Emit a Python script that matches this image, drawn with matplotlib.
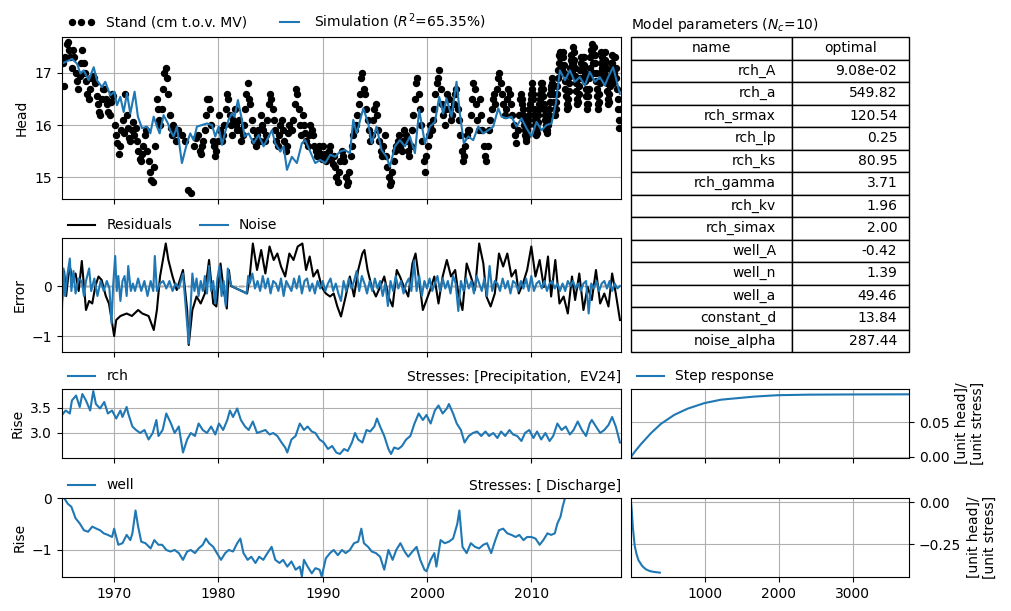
import numpy as np
import matplotlib
matplotlib.use("Agg")
import matplotlib.pyplot as plt

obs_first_year = 1965
obs_last_span = 0.6  # the last row only covers part of 2018
obs_by_year = [
    [17.2, 16.75, 17.3, 17.55, 17.6, 17.45, 17.3, 17.1],
    [17.45, 17.3, 17.0, 16.85, 16.7, 16.95, 17.2, 17.45],
    [17.2, 17.0, 16.85, 16.6, 16.5, 16.7, 16.9, 16.95],
    [16.9, 16.8, 16.55, 16.4, 16.25, 16.2, 16.5, 16.7],
    [16.7, 16.5, 16.4, 16.25, 16.2, 16.45, 16.6, 16.55],
    [16.0, 15.8, 15.65, 15.45, 15.6, 15.9, 16.1, 15.85],
    [16.6, 16.2, 15.95, 15.75, 15.7, 15.9, 16.05, 15.8],
    [15.95, 15.7, 15.5, 15.35, 15.3, 15.45, 15.6, 15.8],
    [15.9, 15.5, 15.3, 15.1, 14.95, 14.9, 15.2, 15.6],
    [16.5, 16.3, 16.1, 16.0, 16.3, 16.7, 17.0, 17.1],
    [16.9, 16.6, 16.2, 15.95, 15.8, 16.0, 15.85, 15.7],
    [15.9, 15.8, 15.7],
    [14.75, 14.7, 15.6, 15.75],
    [15.8, 15.5, 15.45, 15.6, 15.7, 15.9, 16.2, 16.5],
    [16.5, 16.3, 16.0, 15.7, 15.6, 15.4, 15.5, 15.7],
    [16.2, 15.9, 15.7, 15.8, 16.0, 16.3, 16.6, 16.5],
    [16.2, 16.0, 15.8, 16.1, 16.3, 16.0, 15.9, 16.1],
    [15.9, 15.7, 15.8, 16.0, 16.3, 16.6, 16.8, 16.5],
    [16.4, 16.1, 15.9, 15.7, 15.6, 15.8, 15.9, 15.7],
    [16.2, 16.0, 15.9, 15.7, 15.8, 16.1, 16.4, 16.6],
    [16.5, 16.3, 16.1, 15.9, 15.7, 15.6, 15.8, 16.0],
    [16.1, 15.9, 15.7, 15.5, 15.6, 15.85, 16.0, 15.9],
    [15.9, 16.1, 16.4, 16.7, 16.6, 16.3, 16.0, 15.8],
    [16.2, 16.0, 15.85, 15.7, 15.6, 15.8, 16.0, 15.9],
    [15.8, 15.6, 15.5, 15.4, 15.5, 15.6, 15.45, 15.35],
    [15.6, 15.45, 15.3, 15.4, 15.5, 15.6, 15.35, 15.25],
    [15.4, 15.2, 15.0, 14.9, 15.1, 15.3, 15.5, 15.4],
    [15.3, 15.0, 14.85, 14.9, 15.1, 15.4, 15.6, 15.8],
    [15.9, 16.0, 16.2, 16.4, 16.6, 16.9, 17.0, 16.7],
    [16.6, 16.3, 16.1, 15.9, 15.7, 15.8, 16.1, 16.3],
    [16.4, 16.2, 15.9, 15.7, 15.5, 15.4, 15.6, 15.8],
    [15.4, 15.2, 15.0, 14.85, 14.9, 15.1, 15.3, 15.5],
    [15.6, 15.7, 15.8, 15.6, 15.5, 15.7, 15.9, 15.8],
    [15.7, 15.5, 15.4, 15.6, 15.9, 16.2, 16.5, 16.8],
    [16.9, 16.6, 16.3, 16.0, 15.7, 15.3, 15.1, 15.4],
    [15.6, 15.8, 16.0, 15.9, 16.1, 16.3, 16.6, 16.8],
    [16.9, 17.05, 16.7, 16.4, 16.2, 16.0, 16.3, 16.6],
    [16.5, 16.3, 16.1, 16.2, 16.4, 16.6, 16.7, 16.3],
    [16.1, 15.8, 15.5, 15.3, 15.4, 15.6, 15.8, 15.9],
    [15.9, 16.2, 16.5, 16.8, 16.7, 16.4, 16.1, 15.9],
    [16.5, 16.2, 15.9, 15.6, 15.4, 15.3, 15.6, 15.9],
    [16.1, 16.3, 16.5, 16.6, 16.4, 16.7, 16.9, 17.0],
    [16.8, 16.6, 16.4, 16.2, 16.3, 16.5, 16.7, 16.6],
    [16.4, 16.2, 16.0, 15.8, 15.65, 15.9, 16.2, 16.5],
    [16.6, 16.5, 16.4, 16.3, 16.2, 16.1, 16.0, 15.9, 15.8, 15.75,
     15.7, 15.8, 15.9, 16.0, 16.1, 16.2, 16.3, 16.4, 16.5, 16.6],
    [16.8, 16.7, 16.6, 16.5, 16.3, 16.2, 16.1, 16.0, 15.9, 15.8,
     15.85, 15.95, 16.05, 16.2, 16.3, 16.4, 16.5, 16.6, 16.7, 16.8],
    [16.8, 16.7, 16.55, 16.4, 16.3, 16.2, 16.1, 16.0, 15.9, 15.85,
     15.9, 16.0, 16.1, 16.2, 16.3, 16.45, 16.6, 16.7, 16.75, 16.8],
    [16.9, 16.75, 16.6, 16.45, 16.3, 16.2, 16.3, 16.45, 16.6, 16.75,
     16.9, 17.05, 17.2, 17.35, 17.4, 17.3, 17.15, 17.0, 17.1, 17.3],
    [17.4, 17.3, 17.15, 17.0, 16.85, 16.7, 16.55, 16.4, 16.3, 16.35,
     16.5, 16.65, 16.8, 16.95, 17.1, 17.25, 17.35, 17.2, 17.0, 17.2],
    [17.5, 17.4, 17.25, 17.1, 16.95, 16.8, 16.65, 16.5, 16.4, 16.45,
     16.6, 16.75, 16.9, 17.05, 17.2, 17.3, 17.1, 16.9, 17.1, 17.3],
    [17.3, 17.15, 17.0, 16.85, 16.7, 16.55, 16.4, 16.3, 16.4, 16.55,
     16.7, 16.9, 17.1, 17.3, 17.45, 17.55, 17.4, 17.2, 17.0, 17.2],
    [17.5, 17.35, 17.2, 17.0, 16.85, 16.7, 16.55, 16.4, 16.3, 16.45,
     16.6, 16.8, 17.0, 17.2, 17.4, 17.3, 17.1, 16.9, 17.0, 17.2],
    [17.4, 17.25, 17.1, 16.95, 16.8, 16.65, 16.5, 16.4, 16.45, 16.6,
     16.75, 16.9, 17.05, 17.2, 17.35, 17.2, 17.0, 16.8, 17.0, 17.3],
    [17.3, 17.1, 16.9, 16.7, 16.5, 16.3, 16.1, 15.95, 16.1, 16.3],
]

sim_t = [1965.0, 1965.96, 1966.44, 1966.76, 1967.08, 1967.56, 1968.04, 1968.35, 1968.83,
         1969.15, 1969.63, 1970.02, 1970.27, 1970.59, 1970.91, 1971.23, 1971.55, 1971.96,
         1972.28, 1972.67, 1973.15, 1973.47, 1973.79, 1974.11, 1974.36, 1974.74, 1975.16,
         1975.38, 1975.7, 1976.02, 1976.5, 1976.98, 1977.3, 1977.62, 1977.94, 1978.42,
         1978.9, 1979.38, 1979.7, 1980.02, 1980.34, 1980.65, 1980.97, 1981.29, 1981.55,
         1981.87, 1982.19, 1982.51, 1982.89, 1983.37, 1983.85, 1984.33, 1984.81, 1985.13,
         1985.45, 1985.93, 1986.25, 1986.57, 1987.04, 1987.52, 1988.0, 1988.32, 1988.8,
         1989.28, 1989.76, 1990.24, 1990.72, 1991.2, 1991.65, 1992.13, 1992.61, 1992.93,
         1993.25, 1993.89, 1994.37, 1994.69, 1995.16, 1995.64, 1996.12, 1996.44, 1996.92,
         1997.4, 1997.88, 1998.36, 1998.84, 1999.25, 1999.8, 2000.28, 2000.76, 2001.17,
         2001.55, 2001.87, 2002.35, 2002.83, 2003.15, 2003.53, 2003.95, 2004.43, 2004.91,
         2005.39, 2005.87, 2006.35, 2006.83, 2007.15, 2007.62, 2008.1, 2008.58, 2009.06,
         2009.54, 2010.02, 2010.5, 2010.98, 2011.46, 2011.94, 2012.35, 2012.74, 2013.22,
         2013.7, 2014.17, 2014.65, 2015.13, 2015.61, 2016.09, 2016.57, 2017.05, 2017.37,
         2017.85, 2018.49]
sim_v = [17.18, 17.27, 17.18, 16.99, 17.05, 16.86, 17.11, 16.86, 16.73,
         16.83, 16.57, 16.64, 16.38, 16.54, 16.25, 16.61, 16.22, 16.64,
         16.16, 15.94, 15.97, 15.84, 16.16, 15.97, 15.84, 16.19, 16.03,
         15.90, 15.78, 15.97, 15.27, 15.65, 15.84, 15.71, 15.97, 16.0,
         16.03, 16.0, 15.78, 15.97, 15.62, 15.87, 16.1, 16.22, 16.16,
         16.48, 16.16, 15.78, 15.84, 15.65, 15.81, 15.59, 15.78, 15.90,
         15.65, 15.49, 15.59, 15.14, 15.39, 15.27, 15.65, 15.71, 15.49,
         15.27, 15.33, 15.27, 15.43, 15.39, 15.49, 15.52, 15.46, 16.1,
         15.84, 16.32, 16.03, 15.65, 15.97, 15.52, 15.39, 15.2, 15.59,
         15.71, 15.59, 15.78, 15.46, 16.29, 15.65, 15.97, 16.06, 16.54,
         16.22, 16.51, 16.16, 16.83, 16.22, 15.65, 15.78, 15.71, 15.97,
         15.84, 15.90, 15.97, 16.32, 16.16, 16.13, 16.16, 15.97, 16.13,
         15.94, 15.78, 16.06, 15.90, 16.0, 16.03, 16.41, 17.05, 16.86,
         17.05, 16.83, 16.92, 16.76, 17.02, 16.83, 16.92, 16.76, 16.92,
         17.11, 16.6]

res_t = [1965.0, 1965.2, 1965.4, 1965.6, 1965.8, 1966.0, 1966.3, 1966.6, 1966.9, 1967.1,
         1967.3, 1967.6, 1967.9, 1968.2, 1968.5, 1968.8, 1969.2, 1969.5, 1969.7, 1970.0,
         1970.2, 1970.6, 1971.2, 1971.7, 1972.3, 1972.7, 1973.3, 1973.8, 1974.1, 1974.4,
         1974.95, 1975.2, 1975.6, 1976.0, 1976.6, 1977.0, 1977.15, 1977.5, 1977.9, 1978.3,
         1978.7, 1979.1, 1979.5, 1979.8, 1980.2, 1980.5, 1980.8, 1981.0, 1981.2, 1982.75,
         1983.0, 1983.3, 1983.7, 1984.1, 1984.5, 1984.9, 1985.3, 1985.65, 1986.0, 1986.4,
         1986.8, 1987.2, 1987.6, 1988.05, 1988.4, 1988.75, 1989.1, 1989.5, 1989.9, 1990.3,
         1990.7, 1991.05, 1991.4, 1991.75, 1992.2, 1992.6, 1993.0, 1993.4, 1993.8, 1994.0,
         1994.3, 1994.7, 1995.1, 1995.5, 1995.9, 1996.3, 1996.7, 1997.1, 1997.4, 1997.8,
         1998.2, 1998.6, 1998.9, 1999.2, 1999.6, 1999.95, 2000.3, 2000.7, 2001.1, 2001.5,
         2001.9, 2002.3, 2002.7, 2003.0, 2003.4, 2003.8, 2004.2, 2004.6, 2005.0, 2005.4,
         2005.7, 2006.1, 2006.5, 2006.9, 2007.3, 2007.7, 2008.1, 2008.5, 2008.8, 2009.2,
         2009.6, 2010.0, 2010.4, 2010.8, 2011.2, 2011.6, 2011.9, 2012.3, 2012.7, 2013.1,
         2013.5, 2013.9, 2014.2, 2014.6, 2015.0, 2015.4, 2015.8, 2016.2, 2016.6, 2017.0,
         2017.4, 2017.75, 2018.1, 2018.5]
res_v = [-0.3, 0.3, -0.2, 0.2, 0.35, 0.1, 0.25, -0.1, 0.5, 0.0,
         -0.48, -0.3, -0.35, 0.0, 0.19, 0.12, -0.2, -0.35, -0.6, -1.0,
         -0.68, -0.6, -0.55, -0.6, -0.48, -0.55, -0.6, -0.88, -0.48, 0.19,
         0.85, 0.52, 0.19, -0.08, 0.32, -0.48, -1.18, -0.48, -0.21, -0.35,
         -0.15, 0.52, -0.35, -0.41, 0.45, -0.08, -0.45, 0.32, 0.0, -0.15,
         0.19, 0.85, 0.32, 0.72, 0.25, 0.79, 0.52, 0.65, 0.39, 0.19,
         0.65, 0.52, 0.79, 0.85, 0.32, 0.59, 0.19, 0.32, -0.02, -0.15,
         -0.21, -0.15, -0.41, -0.61, -0.21, 0.19, -0.21, 0.32, 0.65, 0.72,
         0.32, -0.02, -0.21, -0.02, 0.19, -0.21, -0.41, 0.32, 0.19, -0.02,
         -0.21, 0.45, 0.65, 0.19, -0.48, -0.28, -0.08, 0.19, -0.35, 0.19,
         0.52, 0.19, 0.32, -0.15, -0.48, 0.45, 0.19, -0.08, 0.85, 0.45,
         -0.21, -0.41, -0.15, 0.65, 0.39, 0.65, 0.19, 0.32, -0.15, 0.05,
         0.32, 0.79, 0.19, 0.52, -0.02, 0.59, -0.21, 0.52, -0.35, -0.21,
         -0.55, 0.19, -0.28, 0.25, -0.48, -0.02, -0.28, 0.32, -0.35, -0.15,
         -0.41, 0.25, -0.15, -0.68]

# noise, first part at irregular dates
noise_t1 = [1965.0, 1965.15, 1965.3, 1965.5, 1965.75, 1965.9, 1966.1, 1966.3, 1966.6, 1966.9,
            1967.1, 1967.3, 1967.6, 1967.8, 1968.1, 1968.4, 1968.7, 1969.0, 1969.3, 1969.55,
            1969.75, 1969.9, 1970.1, 1970.25, 1970.4, 1970.6, 1970.8, 1971.0, 1971.2, 1971.35,
            1971.6, 1971.8, 1972.0, 1972.3, 1972.6, 1972.9, 1973.2, 1973.5, 1973.75, 1973.9,
            1974.1, 1974.4, 1974.7, 1975.0, 1975.3, 1975.6, 1975.9, 1976.2, 1976.6, 1977.15,
            1977.5, 1977.7, 1977.9, 1978.1, 1978.3, 1978.5, 1978.7, 1978.9, 1979.1, 1979.3,
            1979.5, 1979.7, 1979.9, 1980.1, 1980.3, 1980.5, 1980.7, 1980.9, 1981.1, 1981.25,
            1982.7, 1982.85, 1983.0]
noise_v1 = [-0.45, 0.35, -0.2, 0.2, 0.55, -0.1, 0.3, -0.15, 0.15, 0.1,
            -0.2, 0.1, 0.35, -0.1, 0.15, -0.2, 0.1, -0.1, 0.1, -0.05,
            -0.75, 0.0, 0.6, -0.1, 0.2, -0.3, 0.1, 0.2, -0.2, 0.4,
            -0.1, 0.05, -0.1, 0.15, -0.1, 0.1, -0.2, 0.1, -0.1, 0.6,
            -0.1, 0.05, 0.1, -0.05, 0.1, -0.1, 0.05, -0.05, 0.25, -1.15,
            0.25, -0.1, 0.15, -0.2, 0.1, -0.1, 0.2, -0.15, 0.4, -0.1,
            0.1, -0.35, 0.15, 0.4, -0.2, 0.1, -0.4, 0.35, 0.1, 0.0,
            -0.15, 0.2, 0.05]
# noise, quarterly from 1983.25
noise_start2 = 1983.25
noise_v2 = [0.25, -0.05, 0.1,
            -0.1, 0.2, -0.05, 0.15, -0.15, 0.1, 0.05, -0.1, 0.15, -0.2, 0.1, 0.0,
            -0.1, 0.15, -0.05, 0.2, -0.15, 0.1, 0.15, -0.1, 0.05, -0.15, 0.1, -0.05,
            0.1, -0.1, 0.05, 0.15, -0.1, 0.05, -0.15, -0.3, 0.1, -0.1, 0.15, -0.05,
            0.1, 0.3, -0.1, 0.2, 0.05, -0.15, 0.1, -0.1, 0.15, -0.05, 0.1, -0.2,
            0.05, -0.4, 0.1, -0.1, 0.2, -0.05, 0.1, -0.15, 0.05, 0.15, -0.1, 0.5,
            -0.1, 0.2, -0.2, 0.1, -0.05, 0.15, -0.1, 0.05, 0.2, -0.1, 0.15, -0.05,
            0.1, -0.15, 0.2, 0.05, -0.5, 0.1, -0.1, 0.15, -0.05, 0.1, -0.15, 0.2,
            0.05, -0.1, 0.15, -0.2, 0.4, -0.1, 0.1, 0.05, -0.1, 0.15, -0.05, 0.1,
            -0.15, 0.1, 0.05, -0.1, 0.1, -0.05, 0.15, -0.1, 0.2, -0.1, 0.05, 0.1,
            -0.05, 0.1, -0.1, 0.05, 0.1, -0.05, 0.05, -0.1, 0.05, -0.1, 0.1, 0.0,
            0.1, -0.05, 0.05, -0.1, 0.05, 0.1, -0.55, 0.05, -0.05, 0.1, -0.1, 0.05,
            0.1, -0.05, 0.1, -0.1,
            0.05, -0.05, 0.0]

rch_t = [1965.0, 1965.35, 1965.75, 1965.95, 1966.35, 1966.7, 1966.95, 1967.3, 1967.7, 1968.0,
         1968.25, 1968.65, 1969.05, 1969.4, 1969.8, 1970.2, 1970.6, 1970.8, 1971.2, 1971.35,
         1971.75, 1972.1, 1972.5, 1972.9, 1973.3, 1973.7, 1974.05, 1974.25, 1974.65, 1975.0,
         1975.45, 1975.8, 1976.2, 1976.6, 1977.0, 1977.35, 1977.75, 1978.1, 1978.5, 1978.9,
         1979.3, 1979.7, 1980.05, 1980.45, 1980.85, 1981.1, 1981.4, 1981.8, 1982.15, 1982.55,
         1982.9, 1983.3, 1983.7, 1984.1, 1984.5, 1984.9, 1985.25, 1985.65, 1986.05, 1986.4,
         1986.6, 1987.0, 1987.4, 1987.8, 1988.2, 1988.55, 1988.95, 1989.3, 1989.7, 1990.1,
         1990.5, 1990.9, 1991.3, 1991.65, 1992.05, 1992.4, 1992.8, 1993.1, 1993.4, 1993.8,
         1994.2, 1994.55, 1994.95, 1995.2, 1995.5, 1995.9, 1996.3, 1996.55, 1996.85, 1997.25,
         1997.6, 1998.0, 1998.4, 1998.8, 1999.2, 1999.6, 1999.95, 2000.35, 2000.75, 2001.1,
         2001.5, 2001.9, 2002.1, 2002.5, 2002.85, 2003.25, 2003.6, 2004.0, 2004.4, 2004.8,
         2005.2, 2005.6, 2005.95, 2006.35, 2006.75, 2007.1, 2007.5, 2007.9, 2008.25, 2008.65,
         2009.05, 2009.4, 2009.8, 2010.2, 2010.55, 2010.95, 2011.35, 2011.75, 2012.1, 2012.5,
         2012.9, 2013.3, 2013.7, 2014.05, 2014.45, 2014.85, 2015.25, 2015.6, 2015.8, 2016.2,
         2016.6, 2017.0, 2017.4, 2017.75, 2018.1, 2018.5]
rch_v = [3.36, 3.45, 3.39, 3.65, 3.75, 3.52, 3.78, 3.65, 3.45, 3.84,
         3.58, 3.49, 3.62, 3.39, 3.45, 3.29, 3.45, 3.32, 3.52, 3.39,
         3.13, 3.06, 3.0, 3.06, 2.87, 3.0, 3.26, 2.94, 3.06, 3.39,
         3.19, 3.0, 3.13, 2.61, 2.87, 3.0, 2.94, 3.19, 3.06, 3.0,
         3.13, 2.97, 3.19, 3.06, 3.26, 3.45, 3.32, 3.49, 3.26, 3.13,
         3.06, 3.23, 3.0, 3.03, 3.06, 2.97, 3.0, 2.94, 2.81, 2.71,
         2.61, 2.87, 2.94, 3.19, 3.06, 3.13, 3.03, 3.0, 2.87, 2.81,
         2.68, 2.74, 2.61, 2.58, 2.68, 2.64, 2.81, 3.0, 2.87, 2.81,
         3.06, 3.03, 3.13, 3.29, 3.13, 2.94, 2.68, 2.58, 2.71, 2.68,
         2.74, 2.87, 2.94, 3.19, 3.39, 3.26, 3.36, 3.19, 3.45, 3.55,
         3.39, 3.49, 3.58, 3.39, 3.19, 3.06, 2.81, 2.94, 3.0, 3.03,
         2.94, 3.03, 2.94, 3.0, 2.9, 3.03, 2.94, 3.06, 2.97, 2.94,
         2.84, 3.0, 3.06, 2.9, 3.03, 2.87, 3.0, 2.84, 2.94, 3.19,
         3.06, 3.13, 2.97, 3.06, 3.23, 3.06, 2.94, 3.19, 3.26, 3.13,
         3.0, 3.06, 3.16, 3.32, 3.13, 2.81]

well_t = [1965.2, 1965.55, 1965.9, 1966.3, 1966.7, 1967.1, 1967.5, 1967.9, 1968.3, 1968.65,
          1969.0, 1969.4, 1969.8, 1970.0, 1970.4, 1970.8, 1971.2, 1971.55, 1971.75, 1972.05,
          1972.3, 1972.6, 1973.0, 1973.5, 1973.85, 1974.25, 1974.6, 1975.0, 1975.4, 1975.8,
          1976.2, 1976.6, 1977.0, 1977.35, 1977.75, 1978.1, 1978.5, 1978.8, 1979.1, 1979.5,
          1979.85, 1980.25, 1980.65, 1981.0, 1981.4, 1981.8, 1982.1, 1982.4, 1982.8, 1983.15,
          1983.55, 1983.9, 1984.3, 1984.7, 1985.1, 1985.45, 1985.85, 1986.2, 1986.6, 1987.0,
          1987.4, 1987.8, 1988.0, 1988.2, 1988.55, 1988.95, 1989.3, 1989.7, 1989.9, 1990.3,
          1990.7, 1991.05, 1991.45, 1991.85, 1992.2, 1992.6, 1993.0, 1993.4, 1993.7, 1993.95,
          1994.35, 1994.7, 1995.1, 1995.5, 1995.9, 1996.3, 1996.7, 1997.05, 1997.45, 1997.85,
          1998.2, 1998.6, 1999.0, 1999.35, 1999.75, 1999.95, 2000.35, 2000.7, 2000.9, 2001.3,
          2001.7, 2002.1, 2002.5, 2002.9, 2003.1, 2003.4, 2003.8, 2004.2, 2004.6, 2005.0,
          2005.4, 2005.75, 2006.15, 2006.55, 2006.9, 2007.3, 2007.7, 2008.1, 2008.5, 2008.85,
          2009.25, 2009.6, 2010.0, 2010.4, 2010.8, 2011.15, 2011.55, 2011.9, 2012.25, 2012.5,
          2012.8, 2013.0, 2013.3]
well_v = [0.0, -0.11, -0.17, -0.39, -0.49, -0.62, -0.65, -0.55, -0.59, -0.62,
          -0.68, -0.71, -0.75, -0.59, -0.9, -0.87, -0.71, -0.81, -0.68, -0.24,
          -0.55, -0.84, -0.87, -0.97, -0.81, -0.9, -0.9, -1.0, -1.03, -1.0,
          -1.06, -1.19, -1.03, -1.0, -1.06, -0.97, -0.9, -0.78, -0.87, -0.94,
          -1.06, -1.19, -1.06, -1.0, -1.03, -0.87, -0.78, -1.06, -1.19, -1.13,
          -1.25, -1.13, -1.19, -1.06, -0.94, -1.19, -1.25, -1.19, -1.32, -1.22,
          -1.38, -1.32, -1.51, -1.19, -1.32, -1.45, -1.35, -1.38, -1.51, -1.16,
          -1.06, -1.0, -1.1, -1.0, -1.06, -1.0, -0.87, -0.84, -0.59, -0.87,
          -0.94, -1.03, -1.06, -1.13, -1.38, -1.0, -1.19, -1.0, -0.87, -1.03,
          -1.13, -1.03, -0.94, -1.19, -1.38, -1.41, -1.19, -1.06, -1.32, -0.81,
          -0.87, -0.84, -0.78, -0.5, -0.24, -0.94, -1.06, -0.87, -0.94, -0.97,
          -0.9, -0.87, -1.06, -0.81, -0.62, -0.59, -0.68, -0.71, -0.75, -0.71,
          -0.81, -0.75, -0.75, -0.78, -0.9, -0.81, -0.68, -0.71, -0.68, -0.49,
          -0.36, -0.17, 0.05]

step_rch_t = [0, 50, 135, 270, 405, 585, 766, 991, 1216, 1667, 1982, 2400, 3000, 3780]
step_rch_v = [0.0, 0.0075, 0.0186, 0.0345, 0.048, 0.061, 0.070, 0.078, 0.083, 0.0875,
              0.0895, 0.0903, 0.0906, 0.0908]
step_well_t = [0, 10, 25, 50, 75, 100, 150, 200, 250, 300, 390]
step_well_v = [0.0, -0.05, -0.15, -0.26, -0.31, -0.345, -0.38, -0.4, -0.41, -0.415, -0.42]

param_names = ["rch_A", "rch_a", "rch_srmax", "rch_lp", "rch_ks", "rch_gamma", "rch_kv",
               "rch_simax", "well_A", "well_n", "well_a", "constant_d", "noise_alpha"]
param_optimal = ["9.08e-02", "549.82", "120.54", "0.25", "80.95", "3.71", "1.96",
                 "2.00", "-0.42", "1.39", "49.46", "13.84", "287.44"]

obs_t = []
obs_h = []
for i, row in enumerate(obs_by_year):
    n = len(row)
    span = obs_last_span if i == len(obs_by_year) - 1 else 1.0
    for j, v in enumerate(row):
        obs_t.append(obs_first_year + i + span * (j + 0.5) / n)
        obs_h.append(v)
noise_t = noise_t1 + [noise_start2 + 0.25 * i for i in range(len(noise_v2))]
noise_v = noise_v1 + noise_v2

W, H = 1011, 611
fig = plt.figure(figsize=(W / 100, H / 100), dpi=100)


def box(x0, y0, x1, y1):
    return [x0 / W, 1 - y1 / H, (x1 - x0) / W, (y1 - y0) / H]


ax1 = fig.add_axes(box(62, 37, 621, 199))
ax2 = fig.add_axes(box(62, 238, 621, 352), sharex=ax1)
ax3 = fig.add_axes(box(62, 389, 621, 458), sharex=ax1)
ax4 = fig.add_axes(box(62, 498, 621, 577), sharex=ax1)
axt = fig.add_axes(box(631, 37, 909, 352))
ax5 = fig.add_axes(box(631, 389, 909, 458))
ax6 = fig.add_axes(box(631, 498, 909, 577), sharex=ax5)

blue = "C0"
leg_kw = dict(loc="lower left", bbox_to_anchor=(0, 1), frameon=False, borderaxespad=0.0)

# head
ax1.plot(obs_t, obs_h, ls="none", marker="o", ms=4.3, color="k", label="Stand (cm t.o.v. MV)")
ax1.plot(sim_t, sim_v, color=blue, lw=1.5, label="Simulation ($R^2$=65.35%)")
ax1.set_ylim(14.58, 17.69)
ax1.set_yticks([15, 16, 17])
ax1.set_ylabel("Head")
ax1.legend(ncol=2, numpoints=3, **leg_kw)

# residuals and noise
ax2.axhline(0, color="k", ls="--", lw=1, zorder=0)
ax2.plot(res_t, res_v, color="k", lw=1.5, label="Residuals")
ax2.plot(noise_t, noise_v, color=blue, lw=1.5, label="Noise")
ax2.set_ylim(-1.32, 0.96)
ax2.set_yticks([-1, 0])
ax2.set_ylabel("Error")
ax2.legend(ncol=2, **leg_kw)

# contributions
ax3.plot(rch_t, rch_v, color=blue, lw=1.5, label="rch")
ax3.set_ylim(2.5, 3.88)
ax3.set_yticks([3.0, 3.5])
ax3.set_ylabel("Rise")
ax3.legend(**leg_kw)
ax3.set_title("Stresses: [Precipitation,  EV24]", loc="right", fontsize=10)

ax4.plot(well_t, well_v, color=blue, lw=1.5, label="well")
ax4.set_ylim(-1.52, 0)
ax4.set_yticks([-1, 0])
ax4.set_ylabel("Rise")
ax4.legend(**leg_kw)
ax4.set_title("Stresses: [ Discharge]", loc="right", fontsize=10)

for ax in [ax1, ax2, ax3, ax4]:
    ax.grid(True)
    ax.set_xticks([1970, 1980, 1990, 2000, 2010])
for ax in [ax1, ax2, ax3]:
    ax.tick_params(labelbottom=False)
ax4.set_xlim(1965.0, 2018.6)

# step responses
ax5.plot(step_rch_t, step_rch_v, color=blue, lw=1.5, label="Step response")
ax5.set_ylim(-0.0015, 0.0985)
ax5.set_yticks([0.0, 0.05])
ax5.set_yticklabels(["0.00", "0.05"])
ax5.legend(**leg_kw)
ax6.plot(step_well_t, step_well_v, color=blue, lw=1.5)
ax6.set_ylim(-0.446, 0.024)
ax6.set_yticks([-0.25, 0.0])
ax6.set_yticklabels(["\u22120.25", "0.00"])
for ax in [ax5, ax6]:
    ax.yaxis.tick_right()
    ax.yaxis.set_label_position("right")
    ax.set_ylabel("[unit head]/\n[unit stress]")
    ax.grid(True)
    ax.set_xticks([1000, 2000, 3000])
ax5.tick_params(labelbottom=False)
ax6.set_xlim(0, 3760)

# parameter table
axt.axis("off")
axt.set_title("Model parameters ($N_c$=10)", loc="left", fontsize=10)
cells = [[n, v] for n, v in zip(param_names, param_optimal)]
tab = axt.table(cellText=cells, colLabels=["name", "optimal"], cellLoc="right",
                colLoc="center", bbox=[0, 0, 1, 1], colWidths=[0.58, 0.42])
tab.auto_set_font_size(False)
tab.set_fontsize(10)

fig.savefig("out.png", dpi=100)
